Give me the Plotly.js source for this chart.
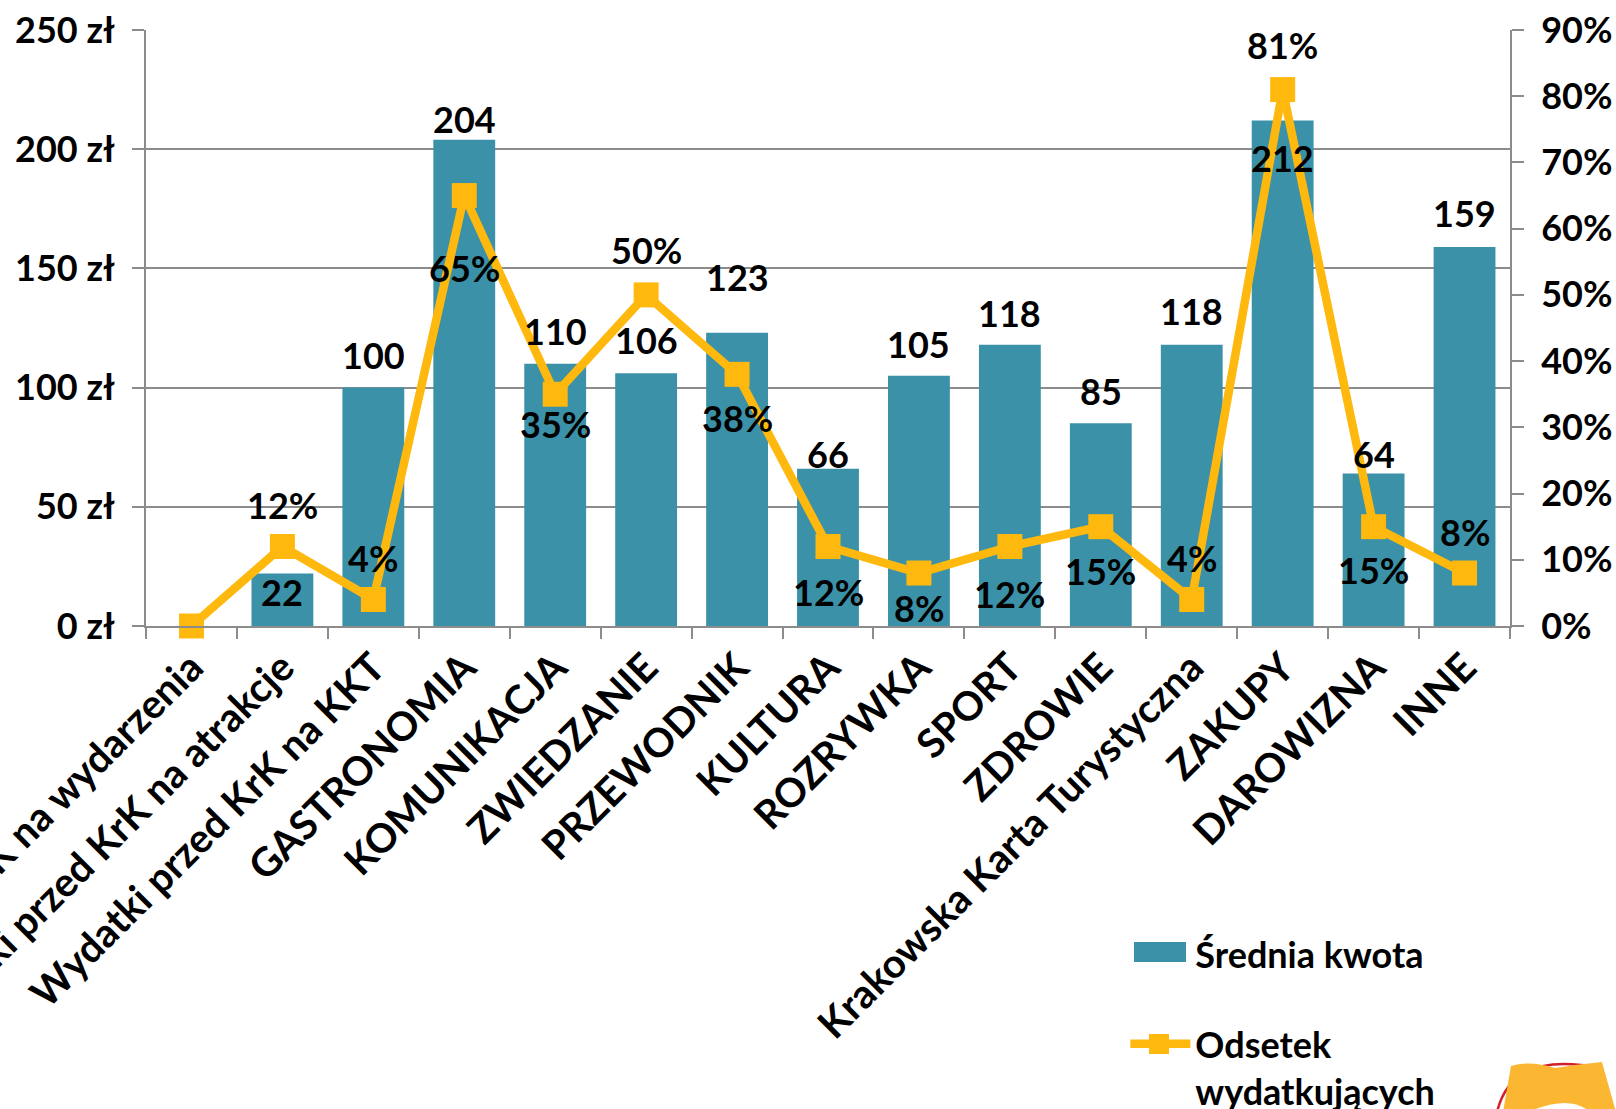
<!DOCTYPE html>
<html><head><meta charset="utf-8">
<script src="https://cdn.plot.ly/plotly-3.0.1.min.js"></script>
<style>html,body{margin:0;padding:0;background:#fff;}#chart{width:1616px;height:1109px;}</style>
</head><body><div id="chart"></div>
<script>
// ---- data ----
const categories = ["Wydatki przed KrK na wydarzenia","Wydatki przed KrK na atrakcje","Wydatki przed KrK na KKT","GASTRONOMIA","KOMUNIKACJA","ZWIEDZANIE","PRZEWODNIK","KULTURA","ROZRYWKA","SPORT","ZDROWIE","Krakowska Karta Turystyczna","ZAKUPY","DAROWIZNA","INNE"];
const avgAmount = [null,22,100,204,110,106,123,66,105,118,85,118,212,64,159];
const shareSpending = [0,0.12,0.04,0.65,0.35,0.50,0.38,0.12,0.08,0.12,0.15,0.04,0.81,0.15,0.08];
const seriesNames = ["Średnia kwota","Odsetek<br>wydatkujących"];

// ---- label placement (style, px) ----
const barLabelShift  = [0,-18,33,21,33,33,56,15,32,32,32,34,-37,19,34];
const lineLabelShift = [0,42,42,-72,-30,45,-44,-45,-35,-47,-44,42,45,-43,41];

const FONT = "Lato, 'Open Sans', sans-serif";
const W = "bold";
const BAR_C = "#3A91A8", LINE_C = "#FFB80D", GRID_C = "#8C8C8C";
const fs = 36;

const bar = {
  type:"bar", x:categories, y:avgAmount, name:seriesNames[0],
  marker:{color:BAR_C}, hoverinfo:"skip", legendgroup:"a"
};
const line = {
  type:"scatter", mode:"lines+markers", x:categories, y:shareSpending, yaxis:"y2",
  name:seriesNames[1], line:{color:LINE_C, width:8.5},
  marker:{symbol:"square", size:25, color:LINE_C}, cliponaxis:false, legendgroup:"b"
};

const annotations = [];
categories.forEach((c,i)=>{
  if (avgAmount[i] != null && avgAmount[i] > 0) {
    annotations.push({x:c, y:avgAmount[i], xref:"x", yref:"y", text:String(avgAmount[i]),
      showarrow:false, yshift:barLabelShift[i], font:{family:FONT,size:fs,weight:W,color:"#000"}});
  }
  if (shareSpending[i] > 0) {
    annotations.push({x:c, y:shareSpending[i], xref:"x", yref:"y2", text:Math.round(shareSpending[i]*100)+"%",
      showarrow:false, yshift:lineLabelShift[i], font:{family:FONT,size:fs,weight:W,color:"#000"}});
  }
});

// pixel -> paper helpers for decorations
const L=146, R=1510, T=30, B=626;
const px = v => ((v-L)/(R-L));
const py = v => ((B-v)/(B-T));
const P = (x,y) => px(x).toFixed(4)+","+py(y).toFixed(4);
const shapes = [
  // larger legend swatches (cover the small default symbols)
  {type:"rect", xref:"paper", yref:"paper", layer:"above", line:{width:0}, fillcolor:BAR_C,
   x0:px(1134), x1:px(1186), y0:py(962), y1:py(942)},
  {type:"rect", xref:"paper", yref:"paper", layer:"above", line:{width:0}, fillcolor:LINE_C,
   x0:px(1149), x1:px(1169), y0:py(1054), y1:py(1034)},
  // decorative logo partially visible in the bottom-right corner
  {type:"path", xref:"paper", yref:"paper", layer:"above",
   path:"M"+P(1497,1112)+" Q"+P(1512,1050)+" "+P(1600,1068), line:{color:"#D0202A",width:2.5}},
  {type:"path", xref:"paper", yref:"paper", layer:"above", line:{width:0},
   fillcolor:"#FBB731",
   path:"M"+P(1511,1066)+" Q"+P(1530,1060)+" "+P(1555,1068)+" Q"+P(1580,1064)+" "+P(1602,1062)+
        " L"+P(1616,1112)+" L"+P(1590,1112)+" Q"+P(1570,1094)+" "+P(1528,1112)+" L"+P(1503,1112)+" Z"},
];

const layout = {
  width:1616, height:1109,
  margin:{l:L, r:1616-R, t:T, b:1109-B, autoexpand:false},
  paper_bgcolor:"#fff", plot_bgcolor:"#fff",
  bargap:0.32,
  showlegend:true,
  font:{family:FONT, size:fs, weight:W, color:"#000"},
  xaxis:{type:"category", range:[-0.5, categories.length-0.5], tickangle:-45, ticks:"outside", tickson:"boundaries", ticklen:11,
    tickcolor:GRID_C, tickwidth:2, showline:true, linecolor:GRID_C, linewidth:2, showgrid:false,
    tickfont:{family:FONT,size:40,weight:W,color:"#000"}, automargin:false},
  yaxis:{range:[0,250], dtick:50, ticksuffix:" zł", ticks:"outside", ticklen:12, tickcolor:GRID_C, tickwidth:2,
    showline:true, linecolor:GRID_C, linewidth:2, showgrid:true, gridcolor:GRID_C, gridwidth:2, zeroline:false,
    ticklabelstandoff:10, tickfont:{family:FONT,size:fs,weight:W,color:"#000"}, automargin:false},
  yaxis2:{range:[0,0.9], dtick:0.1, tickformat:".0%", overlaying:"y", side:"right", ticks:"outside", ticklen:12,
    tickcolor:GRID_C, tickwidth:2, showline:true, linecolor:GRID_C, linewidth:2, showgrid:false, zeroline:false,
    ticklabelstandoff:10, tickfont:{family:FONT,size:fs,weight:W,color:"#000"}, automargin:false},
  legend:{x:0.718, y:-0.50, xanchor:"left", yanchor:"top", traceorder:"grouped", tracegroupgap:40,
    valign:"top", itemwidth:60, bgcolor:"rgba(0,0,0,0)",
    font:{family:FONT,size:fs,weight:W,color:"#000"}},
  annotations:annotations,
  shapes:shapes
};

Plotly.newPlot("chart",[bar,line],layout,{staticPlot:true});
</script></body></html>
